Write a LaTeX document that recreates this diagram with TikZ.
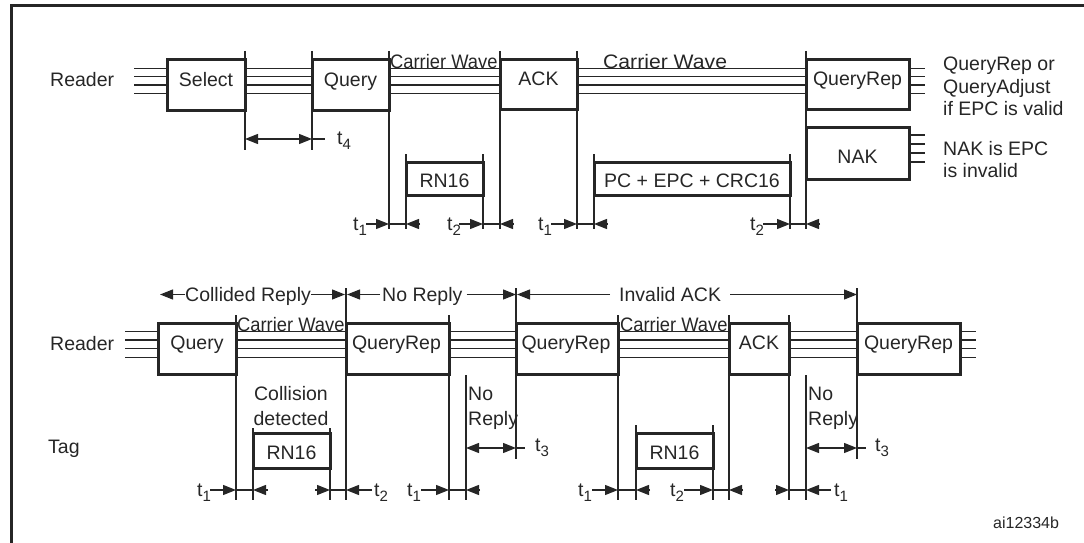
\documentclass[tikz,border=0pt]{standalone}
\usepackage{fontspec}
\setmainfont{Liberation Sans}
\usetikzlibrary{arrows.meta}
\definecolor{ink}{HTML}{262626}
\newcommand\tsb[1]{t\raisebox{-5.5pt}{\fontsize{15}{15}\selectfont #1}}
\begin{document}
\begin{tikzpicture}[x=1pt,y=-1pt,
  every node/.style={font=\fontsize{19.5}{22.5}\selectfont, text=ink, inner sep=0pt},
  box/.style={draw=ink, line width=3pt, text height=10pt, text depth=8pt, minimum height=50pt},
  tagbox/.style={draw=ink, line width=3pt, text height=18pt, text depth=0pt, minimum height=34pt},
  wire/.style={draw=ink, line width=1.2pt},
  vl/.style={draw=ink, line width=1.1pt},
  arr/.style={draw=ink, line width=1.3pt, -{Triangle[length=13pt,width=10pt]}},
  dbl/.style={draw=ink, line width=1.3pt, {Triangle[length=13pt,width=10pt]}-{Triangle[length=13pt,width=10pt]}},
  seg/.style={draw=ink, line width=1.3pt},
  lbl/.style={text height=14pt, text depth=0pt}
]
\useasboundingbox (0,0) rectangle (1084,543);
\clip (0,0) rectangle (1084,543);
% frame
\draw[ink, line width=3.5pt] (11.7,560) -- (11.7,5.5) -- (1100,5.5);

% ---------- top part ----------
\foreach \x/\a/\b in {245/51/150, 312/51/150, 389/51/229, 406/154/229, 483/154/229,
  500/51/229, 577/51/229, 594/154/229, 790/154/229, 806/51/229}
  \draw[vl] (\x,\a) -- (\x,\b);

\foreach \xa/\xb in {134/167, 245/312, 389/500, 577/806, 909/925}
  \foreach \yy in {68.3,76.7,85,93.3}
    \draw[wire] (\xa,\yy) -- (\xb,\yy);
\foreach \yy in {135,144,153,162}
  \draw[wire] (909,\yy) -- (925,\yy);

\node[anchor=base west] (rdr1) at (50,86) {Reader};
\node[box, minimum width=78pt] (sel) at (206,85) {Select};
\node[box, minimum width=77pt] (q1) at (350.5,85) {Query};
\node[box, minimum width=77pt, minimum height=49pt] (ack1) at (538.5,84.5) {ACK};
\node[box, minimum width=103pt, minimum height=49pt] (qr1) at (857.5,84.5) {QueryRep};
\node[draw=ink, line width=3pt, text height=20pt, text depth=0pt, minimum width=103pt, minimum height=52pt] (nak) at (857.5,153) {NAK};
\node[tagbox, minimum width=77pt, minimum height=33pt] (rn1) at (444.5,178.5) {RN16};
\node[tagbox, minimum width=196pt, minimum height=33pt] (pc) at (692,178.5) {PC + EPC + CRC16};

\node[anchor=base west] (cw1) at (390,68) {\scalebox{0.94}[1]{Carrier Wave}};
\node[anchor=base west] (cw2) at (603,68) {\scalebox{1.085}[1]{Carrier Wave}};

\node[anchor=base west] (n1) at (943,70.5) {QueryRep or};
\node[anchor=base west] (n2) at (943,93) {QueryAdjust};
\node[anchor=base west] (n3) at (943,115.5) {if EPC is valid};
\node[anchor=base west] (n4) at (943,155) {NAK is EPC};
\node[anchor=base west] (n5) at (943,177.5) {is invalid};

% t4
\draw[dbl] (245,139) -- (312,139);
\draw[seg] (312,139) -- (325,139);
\node[anchor=base west] (t4) at (337,144) {\tsb{4}};

% top timing arrows
\node[anchor=base west] (ta1) at (353,230) {\tsb{1}};
\draw[arr] (366,224) -- (389,224);
\draw[seg] (389,224) -- (406,224);
\draw[arr] (420,224) -- (406,224);

\node[anchor=base west] (ta2) at (447,230) {\tsb{2}};
\draw[arr] (459,224) -- (483,224);
\draw[seg] (483,224) -- (500,224);
\draw[arr] (513,224) -- (500,224);

\node[anchor=base west] (ta3) at (538,230) {\tsb{1}};
\draw[arr] (551,224) -- (577,224);
\draw[seg] (577,224) -- (594,224);
\draw[arr] (607,224) -- (594,224);

\node[anchor=base west] (ta4) at (750,230) {\tsb{2}};
\draw[arr] (763,224) -- (790,224);
\draw[seg] (790,224) -- (806,224);
\draw[arr] (820,224) -- (806,224);

% ---------- bottom part ----------
\foreach \x/\a/\b in {236/315/500, 253/428/500, 330/428/500, 346/288/500, 449/315/500,
  466/375/500, 516/288/459, 618/315/500, 636/425/500, 713/425/500, 729/315/500,
  789/315/500, 806/375/500, 857/288/459}
  \draw[vl] (\x,\a) -- (\x,\b);

\foreach \xa/\xb in {125/158, 236/346, 449/516, 618/729, 789/857, 960/976}
  \foreach \yy in {331.7,340,348.7,357.3}
    \draw[wire] (\xa,\yy) -- (\xb,\yy);

% header arrows
\node[lbl, anchor=west] (cr) at (185,294.5) {Collided Reply};
\draw[arr] (cr.west) -- (160,294.5);
\draw[arr] (cr.east) -- (345,294.5);
\node[lbl, anchor=west] (nr) at (382,294.5) {No Reply};
\draw[arr] ([xshift=-2pt]nr.west) -- (347,294.5);
\draw[arr] ([xshift=4pt]nr.east) -- (516,294.5);
\node[lbl, anchor=west] (ia) at (619,294.5) {Invalid ACK};
\draw[arr] ([xshift=-9pt]ia.west) -- (517,294.5);
\draw[arr] ([xshift=9pt]ia.east) -- (857,294.5);

\node[anchor=base west] (rdr2) at (50,350) {Reader};
\node[box, minimum width=78pt, minimum height=51pt] (q2) at (197,348.5) {Query};
\node[box, minimum width=103pt, minimum height=51pt, text width=91pt, align=left] (qr2) at (397.5,348.5) {QueryRep};
\node[box, minimum width=102pt, minimum height=51pt, text width=91pt, align=left] (qr3) at (567,348.5) {QueryRep};
\node[box, minimum width=60pt, minimum height=51pt] (ack2) at (759,348.5) {ACK};
\node[box, minimum width=103pt, minimum height=51pt] (qr4) at (908.5,348.5) {QueryRep};

\node[anchor=base west] (cw3) at (237,331.5) {\scalebox{0.94}[1]{Carrier Wave}};
\node[anchor=base west] (cw4) at (620,331.5) {\scalebox{0.94}[1]{Carrier Wave}};

\node[anchor=base west] (tag) at (48,453) {Tag};
\node[anchor=base] (col1) at (291,400.5) {Collision};
\node[anchor=base] (col2) at (291,425) {detected};
\node[anchor=base west] (nra) at (468,400.5) {No};
\node[anchor=base west] (nrb) at (468,425) {Reply};
\node[anchor=base west] (nrc) at (808,400.5) {No};
\node[anchor=base west] (nrd) at (808,425) {Reply};

\node[tagbox, minimum width=77pt, minimum height=35pt] (rn2) at (291.5,450.5) {RN16};
\node[tagbox, minimum width=77pt, minimum height=35pt] (rn3) at (674.5,450.5) {RN16};

% t3
\draw[dbl] (466,448) -- (516,448);
\draw[seg] (516,448) -- (525,448);
\node[anchor=base west] (t3a) at (535,451) {\tsb{3}};
\draw[dbl] (806,448) -- (857,448);
\draw[seg] (857,448) -- (866,448);
\node[anchor=base west] (t3b) at (875,451) {\tsb{3}};

% bottom timing arrows
\node[anchor=base west] (tb1) at (197,496) {\tsb{1}};
\draw[arr] (210,490) -- (236,490);
\draw[seg] (236,490) -- (253,490);
\draw[arr] (268,490) -- (253,490);

\draw[arr] (315,490) -- (330,490);
\draw[seg] (330,490) -- (346,490);
\draw[arr] (372,490) -- (346,490);
\node[anchor=base west] (tb2) at (374,496) {\tsb{2}};

\node[anchor=base west] (tb3) at (407,496) {\tsb{1}};
\draw[arr] (421,490) -- (449,490);
\draw[seg] (449,490) -- (466,490);
\draw[arr] (480,490) -- (466,490);

\node[anchor=base west] (tb4) at (578,496) {\tsb{1}};
\draw[arr] (592,490) -- (618,490);
\draw[seg] (618,490) -- (636,490);
\draw[arr] (650,490) -- (636,490);

\node[anchor=base west] (tb5) at (670,496) {\tsb{2}};
\draw[arr] (684,490) -- (713,490);
\draw[seg] (713,490) -- (729,490);
\draw[arr] (743,490) -- (729,490);

\draw[arr] (775,490) -- (789,490);
\draw[seg] (789,490) -- (806,490);
\draw[arr] (831,490) -- (806,490);
\node[anchor=base west] (tb6) at (834,496) {\tsb{1}};

\node[anchor=base west, font=\fontsize{16}{16}\selectfont] (ref) at (993,528) {ai12334b};
\end{tikzpicture}
\end{document}
